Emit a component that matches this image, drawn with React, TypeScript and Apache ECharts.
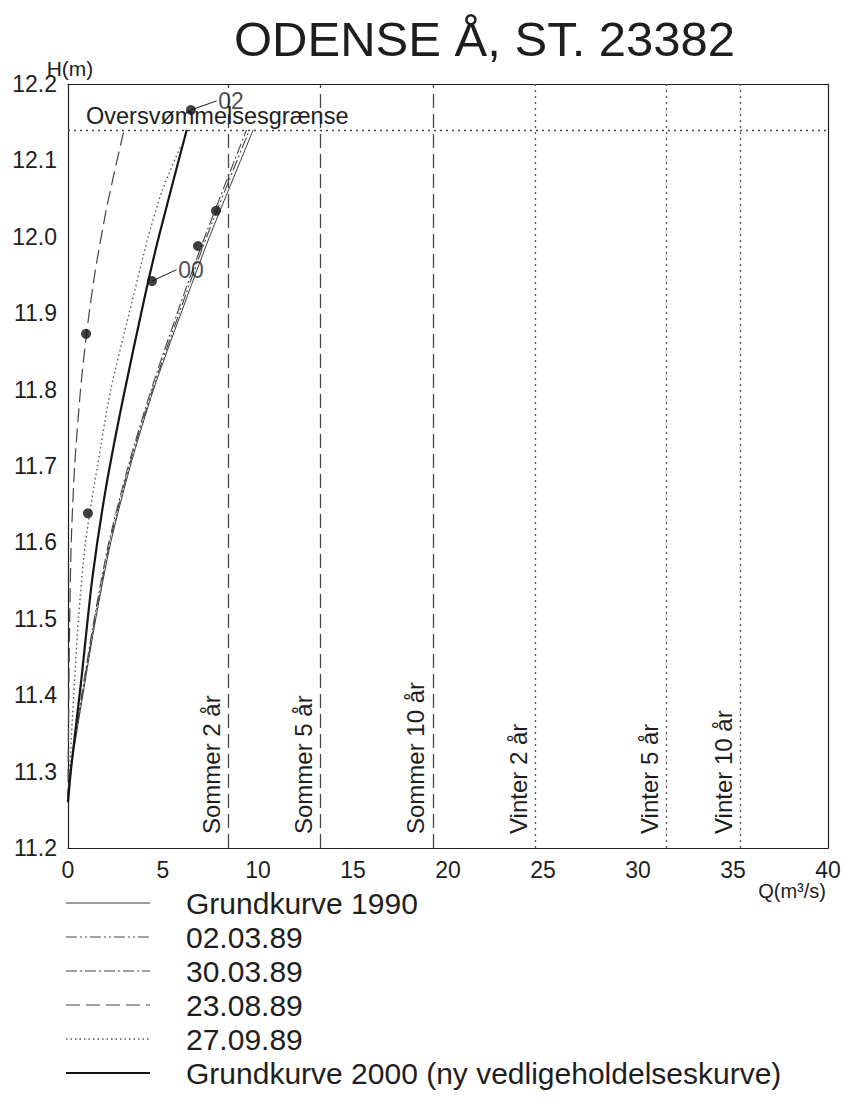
import React, { useEffect, useRef } from "react";
import * as echarts from "echarts";

const FONT = "'Liberation Sans', Arial, sans-serif";
const INK = "#1e1e1e";

// Axis ranges / ticks
const Q_MIN = 0, Q_MAX = 40, Q_STEP = 5, Q_MINOR = 0.5;
const H_MIN = 11.2, H_MAX = 12.2, H_STEP = 0.1, H_MINOR = 0.01;

// Grid placement
const GRID_LEFT = 68, GRID_TOP = 84, GRID_W = 760, GRID_H = 764;

// Curves (H in m, Q in m³/s)
const g1990H = [11.26, 11.31, 11.4, 11.5, 11.6, 11.7, 11.8, 11.9, 12.0, 12.14];
const g1990Q = [0, 0.2, 0.78, 1.46, 2.25, 3.28, 4.5, 5.95, 7.45, 9.75];

const c020389H = [11.27, 11.31, 11.4, 11.5, 11.6, 11.7, 11.8, 11.9, 12.0, 12.14];
const c020389Q = [0, 0.17, 0.74, 1.42, 2.2, 3.22, 4.45, 5.85, 7.3, 9.55];

const c300389H = [11.27, 11.31, 11.4, 11.5, 11.6, 11.7, 11.8, 11.9, 12.0, 12.14];
const c300389Q = [0, 0.16, 0.72, 1.38, 2.15, 3.17, 4.38, 5.75, 7.2, 9.4];

const c230889H = [11.26, 11.4, 11.5, 11.6, 11.7, 11.8, 11.874, 11.95, 12.04, 12.14];
const c230889Q = [0, 0.04, 0.09, 0.17, 0.35, 0.66, 0.98, 1.4, 2.05, 2.95];

const c270989H = [11.26, 11.3, 11.4, 11.5, 11.6, 11.7, 11.8, 11.9, 12.0, 12.06, 12.12];
const c270989Q = [0, 0.08, 0.3, 0.55, 0.92, 1.55, 2.25, 3.22, 4.22, 4.95, 5.95];

const g2000H = [11.26, 11.306, 11.42, 11.551, 11.669, 11.786, 11.917, 12.0, 12.14];
const g2000Q = [0, 0.17, 0.7, 1.27, 1.98, 2.88, 4.0, 4.78, 6.25];

// Measured points
const pointQ = [6.47, 4.42, 7.79, 6.84, 0.95, 1.05];
const pointH = [12.166, 11.942, 12.034, 11.988, 11.873, 11.638];

// Labelled points ("02", "00") with leader end
const tagNames = ["02", "00"];
const tagFromQ = [6.47, 4.42];
const tagFromH = [12.166, 11.942];
const tagToQ = [7.83, 5.72];
const tagToH = [12.178, 11.957];

// Design floods (vertical lines)
const sommerQ = [8.45, 13.3, 19.2];
const sommerLabels = ["Sommer 2 år", "Sommer 5 år", "Sommer 10 år"];
const vinterQ = [24.6, 31.5, 35.4];
const vinterLabels = ["Vinter 2 år", "Vinter 5 år", "Vinter 10 år"];

// Flood limit
const floodH = 12.14;
const floodLabel = "Oversvømmelsesgrænse";

// Legend
const legendNames = [
  "Grundkurve 1990",
  "02.03.89",
  "30.03.89",
  "23.08.89",
  "27.09.89",
  "Grundkurve 2000 (ny vedligeholdelseskurve)",
];

const styles: any[] = [
  { width: 1, type: "solid", color: "#3a3a3a" },
  { width: 1.1, type: [11, 3, 2, 3, 2, 3], color: "#444" },
  { width: 1.1, type: [11, 3, 2, 3], color: "#444" },
  { width: 1.2, type: [14, 6], color: "#444" },
  { width: 1.4, type: [1.5, 3], color: "#555" },
  { width: 2.2, type: "solid", color: "#151515" },
];

const toPairs = (hs: number[], qs: number[]) => hs.map((h, i) => [qs[i], h]);

export default function App() {
  const ref = useRef<HTMLDivElement>(null);

  useEffect(() => {
    document.body.style.margin = "0";
    if (!ref.current) return;
    const chart = echarts.init(ref.current, null, { renderer: "svg" });

    const curves = [
      toPairs(g1990H, g1990Q),
      toPairs(c020389H, c020389Q),
      toPairs(c300389H, c300389Q),
      toPairs(c230889H, c230889Q),
      toPairs(c270989H, c270989Q),
      toPairs(g2000H, g2000Q),
    ];

    const axisX = (pos: string, labels: boolean) => ({
      type: "value",
      min: Q_MIN,
      max: Q_MAX,
      interval: Q_STEP,
      position: pos,
      axisLine: { show: true, onZero: false, lineStyle: { color: INK, width: 1.2 } },
      axisTick: { show: false },
      minorTick: { show: false },
      splitLine: { show: false },
      axisLabel: labels
        ? { show: true, fontSize: 23, fontFamily: FONT, color: INK, margin: 10 }
        : { show: false },
    });
    const axisY = (pos: string, labels: boolean) => ({
      type: "value",
      min: H_MIN,
      max: H_MAX,
      interval: H_STEP,
      position: pos,
      axisLine: { show: true, onZero: false, lineStyle: { color: INK, width: 1.2 } },
      axisTick: { show: false },
      minorTick: { show: false },
      splitLine: { show: false },
      axisLabel: labels
        ? {
            show: true,
            fontSize: 23,
            fontFamily: FONT,
            color: INK,
            margin: 11,
            formatter: (v: number) => v.toFixed(1),
          }
        : { show: false },
    });

    const series: any[] = curves.map((data, i) => ({
      name: legendNames[i],
      type: "line",
      data,
      smooth: 0.25,
      showSymbol: false,
      symbol: "none",
      lineStyle: styles[i],
      z: 3,
    }));

    // Tick marks as mark-line segments placed in data coordinates (through the axes' scales)
    const tickSegs: any[] = [];
    const nQ = Math.round((Q_MAX - Q_MIN) / Q_MINOR);
    const qPer = Math.round(Q_STEP / Q_MINOR);
    const hPerPx = (H_MAX - H_MIN) / GRID_H;
    const qPerPx = (Q_MAX - Q_MIN) / GRID_W;
    for (let k = 0; k <= nQ; k++) {
      const q = +(Q_MIN + k * Q_MINOR).toFixed(3);
      const major = k % qPer === 0;
      const len = (major ? 10 : 5) * hPerPx;
      const w = major ? 1.5 : 1.2;
      tickSegs.push([
        { coord: [q, H_MIN], lineStyle: { width: w } },
        { coord: [q, H_MIN - len] },
      ]);
      tickSegs.push([
        { coord: [q, H_MAX], lineStyle: { width: w } },
        { coord: [q, H_MAX + len] },
      ]);
    }
    const nH = Math.round((H_MAX - H_MIN) / H_MINOR);
    const hPer = Math.round(H_STEP / H_MINOR);
    for (let k = 0; k <= nH; k++) {
      const h = +(H_MIN + k * H_MINOR).toFixed(3);
      const major = k % hPer === 0;
      const len = (major ? 10 : 6) * qPerPx;
      const w = major ? 1.5 : 1.2;
      tickSegs.push([
        { coord: [Q_MIN, h], lineStyle: { width: w } },
        { coord: [Q_MIN - len, h] },
      ]);
      tickSegs.push([
        { coord: [Q_MAX, h], lineStyle: { width: w } },
        { coord: [Q_MAX + len, h] },
      ]);
    }
    series.push({
      name: "ticks",
      type: "line",
      data: [],
      clip: false,
      silent: true,
      z: 10,
      markLine: {
        silent: true,
        symbol: "none",
        animation: false,
        precision: 4,
        label: { show: false },
        lineStyle: { type: "solid", color: INK, width: 1.3 },
        emphasis: { disabled: true },
        data: tickSegs,
      },
    });

    series.push({
      name: "refs",
      type: "line",
      data: [],
      markLine: {
        silent: true,
        symbol: "none",
        animation: false,
        label: {
          show: true,
          position: "insideStartTop",
          fontSize: 24,
          fontFamily: FONT,
          color: INK,
          distance: [14, 5],
        },
        data: [
          ...sommerQ.map((q, i) => ({
            xAxis: q,
            lineStyle: { type: [14, 6], color: "#444", width: 1.3 },
            label: { formatter: sommerLabels[i] },
          })),
          ...vinterQ.map((q, i) => ({
            xAxis: q,
            lineStyle: { type: [2, 4], color: "#555", width: 1.3 },
            label: { formatter: vinterLabels[i] },
          })),
          {
            yAxis: floodH,
            lineStyle: { type: [2, 4], color: "#444", width: 1.3 },
            label: { formatter: floodLabel, distance: [18, 2], fontSize: 23.5 },
          },
        ],
      },
    });

    tagNames.forEach((name, i) => {
      series.push({
        name: "leader" + name,
        type: "line",
        showSymbol: false,
        symbol: "none",
        lineStyle: { color: INK, width: 1 },
        data: [
          [tagFromQ[i], tagFromH[i]],
          [tagToQ[i], tagToH[i]],
        ],
        z: 4,
      });
    });

    series.push({
      name: "tags",
      type: "scatter",
      symbol: "circle",
      symbolSize: 1,
      itemStyle: { color: "rgba(0,0,0,0)" },
      data: tagNames.map((n, i) => ({ value: [tagToQ[i], tagToH[i]], name: n })),
      label: {
        show: true,
        formatter: (p: any) => p.name,
        position: "right",
        distance: 1,
        fontSize: 23,
        fontFamily: FONT,
        color: INK,
      },
      z: 6,
    });

    series.push({
      name: "points",
      type: "scatter",
      data: pointQ.map((q, i) => [q, pointH[i]]),
      symbol: "circle",
      symbolSize: 10,
      itemStyle: { color: "#111" },
      z: 5,
    });

    // Static graphics: axis names + legend
    const legendTop = 903;
    const legendGap = 34;
    const staticEls: any[] = [
      {
        type: "text",
        x: 70,
        y: 68,
        style: { text: "H(m)", fontSize: 21, fontFamily: FONT, fill: INK, align: "center", verticalAlign: "middle" },
      },
      {
        type: "text",
        x: 826,
        y: 891,
        style: { text: "Q(m³/s)", fontSize: 20, fontFamily: FONT, fill: INK, align: "right", verticalAlign: "middle" },
      },
    ];
    legendNames.forEach((name, i) => {
      const y = legendTop + i * legendGap;
      const st = styles[i];
      staticEls.push({
        type: "line",
        shape: { x1: 66, y1: y, x2: 150, y2: y },
        style: { stroke: st.color, lineWidth: st.width, lineDash: Array.isArray(st.type) ? st.type : null },
      });
      staticEls.push({
        type: "text",
        x: 186,
        y,
        style: { text: name, fontSize: 30, fontFamily: FONT, fill: INK, verticalAlign: "middle" },
      });
    });

    const option: any = {
      animation: false,
      backgroundColor: "#ffffff",
      title: {
        text: "ODENSE Å, ST. 23382",
        left: 229,
        top: 9,
        textStyle: { fontSize: 49, fontWeight: "normal", fontFamily: FONT, color: INK },
      },
      grid: { left: GRID_LEFT, top: GRID_TOP, width: GRID_W, height: GRID_H, containLabel: false },
      xAxis: [axisX("bottom", true), axisX("top", false)],
      yAxis: [axisY("left", true), axisY("right", false)],
      series,
      graphic: { elements: staticEls },
    };

    chart.setOption(option);
    return () => chart.dispose();
  }, []);

  return <div ref={ref} style={{ width: 844, height: 1113 }} />;
}
